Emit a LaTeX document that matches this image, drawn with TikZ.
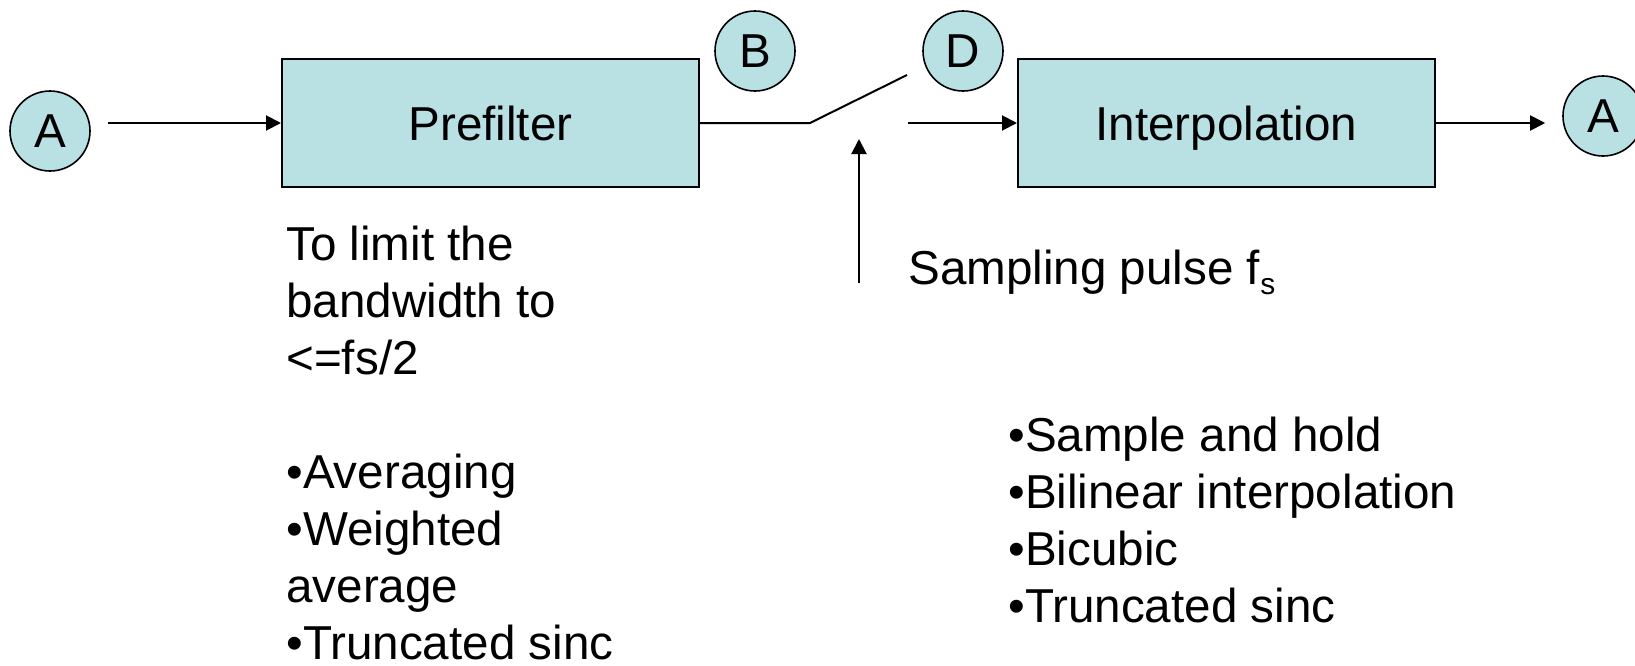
\documentclass[tikz,border=0pt]{standalone}
\usepackage{fontspec}
\setmainfont{Liberation Sans}
\usepackage{tikz}
\usetikzlibrary{arrows.meta}
\definecolor{boxfill}{RGB}{185,224,227}
\tikzset{
  port/.style={circle,draw,fill=boxfill,line width=0.8pt,minimum size=40pt,inner sep=0pt,text depth=0pt},
  block/.style={rectangle,draw,fill=boxfill,line width=1pt,minimum width=208.5pt,minimum height=64pt,text depth=0pt},
  wire/.style={line width=1pt},
  flow/.style={wire,-{Triangle[length=7.5pt,width=7.5pt]}},
  note/.style={inner sep=0pt,anchor=base west,align=left}
}
\newcommand{\sizetext}{\fontsize{23.8pt}{28.5pt}\selectfont}
\newcommand{\lowsub}[1]{\raisebox{-5pt}{\fontsize{15pt}{15pt}\selectfont #1}}
\begin{document}
\begin{tikzpicture}[x=0.5pt,y=-0.5pt,font=\sizetext]
\useasboundingbox (0,0) rectangle (1635,665);
\node[port] (ain) at (50,131) {A};
\node[block] (pre) at (490.5,123) {Prefilter};
\node[port] (b) at (755,51) {B};
\node[port] (d) at (963,51) {D};
\node[block] (interp) at (1226.5,123) {Interpolation};
\node[port] (aout) at (1603,116) {A};
\coordinate (swa) at (810,123);
\coordinate (swb) at (907,75);
\coordinate (swc) at (908,123);
\coordinate (pulse) at (859,283);
\coordinate (pulsetip) at (859,139);
\draw[flow,shorten <=8.5pt] (ain.east |- pre.west) -- (pre.west);
\draw[wire] (pre.east) -- (swa) -- (swb);
\draw[flow] (swc) -- (interp.west);
\draw[flow,shorten >=8.5pt] (interp.east) -- (interp.east -| aout.west);
\draw[flow] (pulse) -- (pulsetip);
\node[note] (pulsetext) at (908,284) {Sampling pulse f\lowsub{s}};
% base anchor sits on the last line
\node[note] (pretext) at (286,659) {To limit the\\bandwidth to\\<=fs/2\\[28.5pt]•Averaging\\•Weighted\\average\\•Truncated sinc};
\node[note] (interptext) at (1008,622) {•Sample and hold\\•Bilinear interpolation\\•Bicubic\\•Truncated sinc};
\end{tikzpicture}
\end{document}
